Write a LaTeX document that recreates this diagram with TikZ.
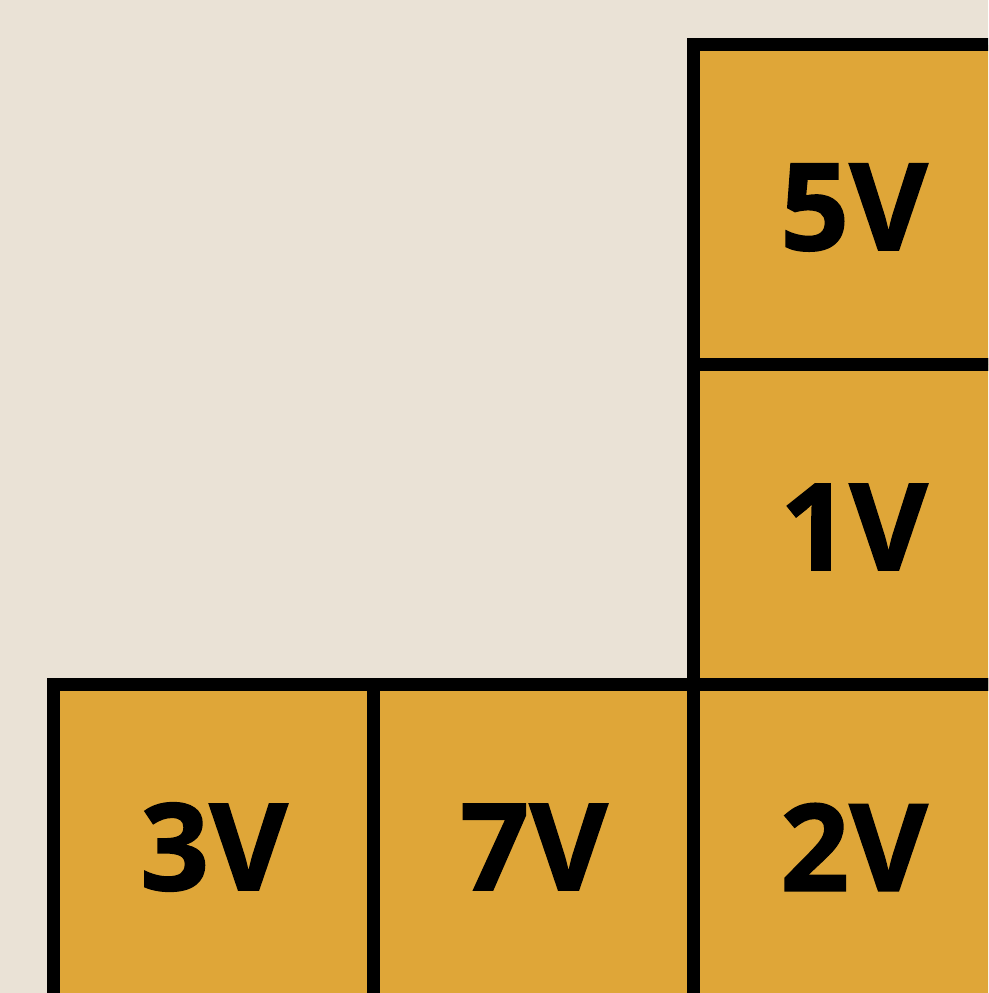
\documentclass[tikz,border=0pt]{standalone}
\usepackage{fontspec}
\setmainfont{Open Sans}[BoldFeatures={FakeBold=1.2}]
\definecolor{bg}{HTML}{EAE2D6}
\definecolor{cellfill}{HTML}{DFA638}
\begin{document}
\begin{tikzpicture}[x=1pt,y=-1pt,
  cellbox/.style={draw=black, fill=cellfill, line width=13pt, minimum size=320pt, inner sep=0pt},
  lbl/.style={font=\fontsize{121}{121}\selectfont\bfseries, text=black, inner sep=0pt, xshift=1pt, yshift=-3pt}]
\fill[bg] (0,0) rectangle (988,993);
\useasboundingbox (0,0) rectangle (988,993);
\clip (0,0) rectangle (988,993);
\node[cellbox] (c5) at (853,204.5) {};
\node[cellbox] (c1) at (853,524) {};
\node[cellbox] (c2) at (853,844) {};
\node[cellbox] (c7) at (533,844) {};
\node[cellbox] (c3) at (213,844) {};
\node[lbl] (t5) at (c5.center) {5V};
\node[lbl] (t1) at (c1.center) {1V};
\node[lbl] (t2) at (c2.center) {2V};
\node[lbl] (t7) at (c7.center) {7V};
\node[lbl] (t3) at (c3.center) {3V};
\end{tikzpicture}
\end{document}
